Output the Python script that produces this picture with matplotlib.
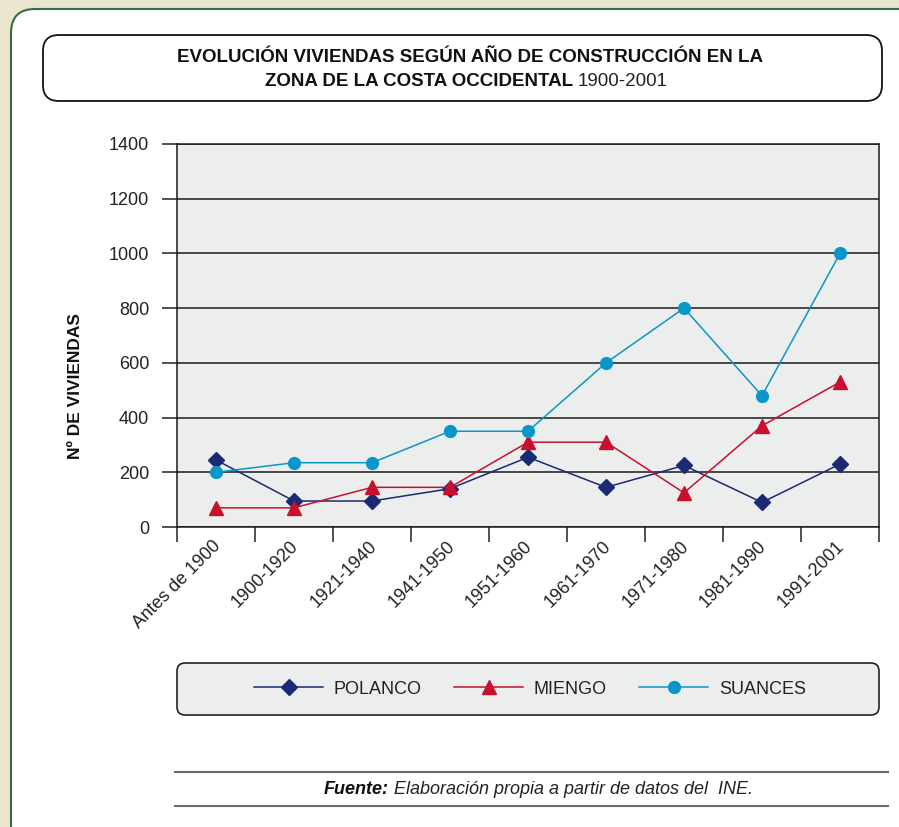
import matplotlib
matplotlib.use("Agg")
import matplotlib.pyplot as plt
from matplotlib.lines import Line2D
from matplotlib.patches import FancyBboxPatch
from matplotlib.transforms import Affine2D, ScaledTranslation

# data
periods = ["Antes de 1900", "1900-1920", "1921-1940", "1941-1950", "1951-1960",
           "1961-1970", "1971-1980", "1981-1990", "1991-2001"]
polanco = [245, 95, 95, 140, 255, 145, 225, 90, 230]
miengo = [70, 70, 145, 145, 310, 310, 125, 370, 530]
suances = [200, 235, 235, 350, 350, 600, 800, 480, 1000]
y_ticks = [0, 200, 400, 600, 800, 1000, 1200, 1400]

W, H = 899, 827
TXT = "#222222"

plt.rcParams["font.family"] = ["Liberation Sans", "DejaVu Sans"]


def main():
    fig = plt.figure(figsize=(W / 100, H / 100), dpi=100)
    fig.patch.set_facecolor("#ebe5cd")

    # pixel coordinates with the origin at the top-left corner
    px = Affine2D().scale(0.01, -0.01).translate(0, H / 100) + fig.dpi_scale_trans

    # white panel with green border
    fig.add_artist(FancyBboxPatch((11, 9), 960, 840,
                                  boxstyle="round,pad=0,rounding_size=24",
                                  transform=px, fc="white", ec="#2f6f4a",
                                  lw=1.5, zorder=-5))

    # 1. Title box
    fig.add_artist(FancyBboxPatch((43, 35), 839, 66,
                                  boxstyle="round,pad=0,rounding_size=16",
                                  transform=px, fc="white", ec="#111111", lw=1.3))
    fig.text(470, 57, "EVOLUCIÓN VIVIENDAS SEGÚN AÑO DE CONSTRUCCIÓN EN LA",
             transform=px, ha="center", va="center", fontsize=13.5,
             fontweight="bold", color="#111111")
    fig.text(573, 82, "ZONA DE LA COSTA OCCIDENTAL", transform=px, ha="right",
             va="center", fontsize=13.5, fontweight="bold", color="#111111")
    fig.text(578, 82, "1900-2001", transform=px, ha="left", va="center",
             fontsize=13.5, color="#222222")

    # 2. Chart
    ax = fig.add_axes([177 / W, 1 - 527 / H, 702 / W, 383 / H])
    ax.set_facecolor("#eceeed")
    x = list(range(len(periods)))
    ax.plot(x, polanco, color="#1b2a72", lw=1.1, marker="D", ms=8.5,
            label="POLANCO", zorder=4)
    ax.plot(x, miengo, color="#c8102e", lw=1.1, marker="^", ms=10,
            label="MIENGO", zorder=4)
    ax.plot(x, suances, color="#0a96c8", lw=1.1, marker="o", ms=8.5,
            label="SUANCES", zorder=4)

    ax.set_xlim(-0.5, len(periods) - 0.5)
    ax.set_ylim(0, 1400)
    ax.set_yticks(y_ticks)
    ax.set_yticklabels([str(v) for v in y_ticks])
    ax.yaxis.grid(True, color="#1a1a1a", lw=1.1)
    ax.set_axisbelow(True)
    ax.tick_params(axis="y", length=11, width=1.1, color="#222222", pad=9,
                   labelsize=13, labelcolor=TXT)

    ax.set_xticks(x)
    ax.set_xticklabels(periods, rotation=45, ha="right", va="center",
                       rotation_mode="anchor", fontsize=13, color=TXT)
    ax.set_xticks([i - 0.5 for i in range(len(periods) + 1)], minor=True)
    ax.tick_params(axis="x", which="major", length=0, pad=12)
    ax.tick_params(axis="x", which="minor", length=11, width=1.1, color="#222222")
    shift = ScaledTranslation(0.02, 0, fig.dpi_scale_trans)
    for lab in ax.get_xticklabels():
        lab.set_transform(lab.get_transform() + shift)

    for sp in ax.spines.values():
        sp.set_color("#1a1a1a")
        sp.set_linewidth(1.1)

    fig.text(75, 386, "Nº DE VIVIENDAS", transform=px, rotation=90,
             ha="center", va="center", fontsize=12.5, fontweight="bold",
             color="#111111")

    # 3. Legend box
    fig.add_artist(FancyBboxPatch((177, 663), 702, 52,
                                  boxstyle="round,pad=0,rounding_size=8",
                                  transform=px, fc="#eceeed", ec="#222222", lw=1.2))
    handles, labels = ax.get_legend_handles_labels()
    leg = fig.legend(handles, labels, loc="center",
                     bbox_to_anchor=(530 / W, 1 - 689 / H), ncol=3,
                     frameon=False, fontsize=13, handlelength=3.8,
                     handletextpad=0.6, columnspacing=1.8)
    for t in leg.get_texts():
        t.set_color(TXT)

    # 4. Source footer
    for yy in (772, 806):
        fig.add_artist(Line2D([175, 888], [yy, yy], transform=px,
                              color="#6b6b6b", lw=1.5))
    fig.text(389, 789, "Fuente:", transform=px, ha="right", va="center",
             fontsize=13, fontweight="bold", fontstyle="italic", color="#111111")
    fig.text(394, 789, "Elaboración propia a partir de datos del  INE.",
             transform=px, ha="left", va="center", fontsize=13,
             fontstyle="italic", color=TXT)

    fig.savefig("out.png", dpi=100, facecolor=fig.get_facecolor())


if __name__ == "__main__":
    main()
